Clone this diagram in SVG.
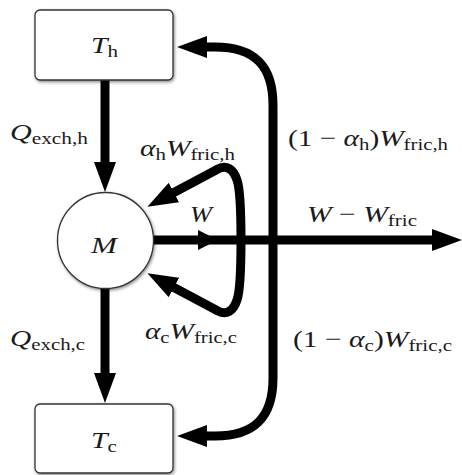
<svg xmlns="http://www.w3.org/2000/svg" width="462" height="475" viewBox="0 0 462 475">
<style>
.box{fill:#fff;stroke:#333;stroke-width:1.3;filter:url(#sh)}
.lbl{font-family:"Liberation Serif","Times New Roman",serif;font-size:24px;fill:#1a1a1a}
.i{font-style:italic}
.s{font-size:17px}
.c{fill:none;stroke:#000;stroke-width:9}
</style>
<defs>
<filter id="sh" x="-20%" y="-20%" width="140%" height="140%">
<feDropShadow dx="1" dy="1.5" stdDeviation="1.6" flood-color="#000" flood-opacity="0.45"/>
</filter>
<marker id="ah" viewBox="0 0 30 22" refX="1" refY="11" markerWidth="30" markerHeight="22" markerUnits="userSpaceOnUse" orient="auto">
<path d="M0,0 L30,11 L0,22 Z" fill="#000"/>
</marker>
<marker id="as" viewBox="0 0 20 20" refX="1" refY="10" markerWidth="20" markerHeight="20" markerUnits="userSpaceOnUse" orient="auto">
<path d="M0,0 L20,10 L0,20 Z" fill="#000"/>
</marker>
</defs>
<g id="connectors">
<path class="c" d="M105,80 L105,163" marker-end="url(#ah)"/>
<path class="c" d="M105,289 L105,374" marker-end="url(#ah)"/>
<path class="c" d="M152,240 L199,240" marker-end="url(#as)"/>
<path class="c" d="M198,240 L433,240" marker-end="url(#ah)"/>
<path class="c" d="M273,240 L273,105 C273,66 255,47 215,47 L206,47" marker-end="url(#ah)"/>
<path class="c" d="M273,240 L273,378 C273,417 255,436 215,436 L206,436" marker-end="url(#ah)"/>
<path class="c" d="M241,241 C241,215 240,188 237,180 C233,168 226,165 218,169 L173,193" marker-end="url(#ah)"/>
<path class="c" d="M241,239 C241,265 240,292 237,300 C233,312 226,315 218,311 L173,287" marker-end="url(#ah)"/>
</g>
<g id="Th">
<rect class="box" x="35" y="10" width="138" height="70" rx="5"/>
<text class="lbl" x="91" y="53" textLength="27" lengthAdjust="spacingAndGlyphs"><tspan class="i">T</tspan><tspan class="s" dy="4">h</tspan></text>
</g>
<g id="Tc">
<rect class="box" x="35" y="404" width="138" height="69" rx="5"/>
<text class="lbl" x="91" y="448" textLength="26" lengthAdjust="spacingAndGlyphs"><tspan class="i">T</tspan><tspan class="s" dy="4">c</tspan></text>
</g>
<g id="M">
<circle class="box" cx="105.5" cy="240.5" r="48"/>
<text class="lbl i" x="91" y="253" textLength="26" lengthAdjust="spacingAndGlyphs">M</text>
</g>
<g id="labels">
<text class="lbl" x="10" y="140" textLength="78" lengthAdjust="spacingAndGlyphs"><tspan class="i">Q</tspan><tspan class="s" dy="4">exch,h</tspan></text>
<text class="lbl" x="140" y="156" textLength="95" lengthAdjust="spacingAndGlyphs"><tspan class="i">α</tspan><tspan class="s" dy="4">h</tspan><tspan class="i" dy="-4">W</tspan><tspan class="s" dy="4">fric,h</tspan></text>
<text class="lbl" x="288" y="146" textLength="160" lengthAdjust="spacingAndGlyphs">(1 − <tspan class="i">α</tspan><tspan class="s" dy="4">h</tspan><tspan dy="-4">)</tspan><tspan class="i">W</tspan><tspan class="s" dy="4">fric,h</tspan></text>
<text class="lbl i" x="190" y="222" textLength="22" lengthAdjust="spacingAndGlyphs">W</text>
<text class="lbl" x="307" y="222" textLength="110" lengthAdjust="spacingAndGlyphs"><tspan class="i">W</tspan> − <tspan class="i">W</tspan><tspan class="s" dy="4">fric</tspan></text>
<text class="lbl" x="10" y="346" textLength="75" lengthAdjust="spacingAndGlyphs"><tspan class="i">Q</tspan><tspan class="s" dy="4">exch,c</tspan></text>
<text class="lbl" x="145" y="339" textLength="92" lengthAdjust="spacingAndGlyphs"><tspan class="i">α</tspan><tspan class="s" dy="4">c</tspan><tspan class="i" dy="-4">W</tspan><tspan class="s" dy="4">fric,c</tspan></text>
<text class="lbl" x="293" y="347" textLength="159" lengthAdjust="spacingAndGlyphs">(1 − <tspan class="i">α</tspan><tspan class="s" dy="4">c</tspan><tspan dy="-4">)</tspan><tspan class="i">W</tspan><tspan class="s" dy="4">fric,c</tspan></text>
</g>
</svg>
